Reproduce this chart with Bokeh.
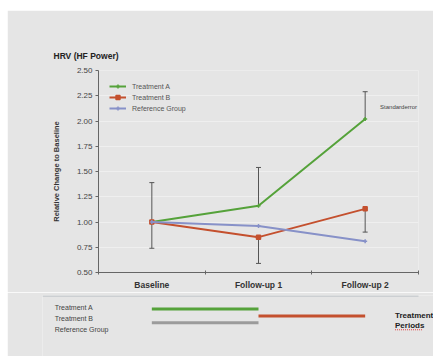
from bokeh.plotting import figure
from bokeh.models import (Range1d, FixedTicker, SingleIntervalTicker, NumeralTickFormatter,
                          Legend, LegendItem, Whisker, TeeHead, ColumnDataSource)
from bokeh.embed import file_html
from bokeh.resources import INLINE
from bokeh.core.properties import value

# ---------------- data ----------------
categories = ["Baseline", "Follow-up 1", "Follow-up 2"]
treatment_a = [1.00, 1.16, 2.02]
treatment_b = [1.00, 0.85, 1.13]
reference_group = [1.00, 0.96, 0.81]
se_a = [0.39, 0.38, 0.27]   # drawn upward
se_b = [0.26, 0.26, 0.23]   # drawn downward
y_ticks_step = 0.25

period_groups = ["Treatment A", "Treatment B", "Reference Group"]
period_start = ["Baseline", "Follow-up 1", "Baseline"]
period_end = ["Follow-up 1", "Follow-up 2", "Follow-up 1"]

# ---------------- styles ----------------
FONT = "Liberation Sans"
BG = "#e5e5e5"
GREEN = "#55a23a"
RED = "#c4502e"
BLUE = "#8791c8"
GRAY_BAR = "#9b9b9b"
TXT = "#444444"
PX_PER_CAT = 320 / 3

xs = [i + 0.5 for i in range(len(categories))]
idx = {c: i + 0.5 for i, c in enumerate(categories)}

p = figure(width=426, height=282, output_backend="svg", toolbar_location=None,
           x_range=Range1d(0, len(categories)), y_range=Range1d(0.5, 2.5),
           min_border_left=91, min_border_right=15, min_border_top=60, min_border_bottom=20,
           title="HRV (HF Power)")
p.styles = {"margin-left": "7px", "margin-top": "10px"}
p.background_fill_color = BG
p.border_fill_color = BG
p.outline_line_color = None
p.title.align = "left"
p.title.offset = -45
p.title.standoff = 19
p.title.text_font = FONT
p.title.text_font_style = "bold"
p.title.text_font_size = "8.5px"
p.title.text_color = "#222222"

# axes
xa = p.xaxis[0]
xa.ticker = FixedTicker(ticks=xs, minor_ticks=list(range(len(categories) + 1)))
xa.major_label_overrides = {x: c for x, c in zip(xs, categories)}
xa.major_tick_out = 0
xa.major_tick_in = 0
xa.minor_tick_out = 2
xa.minor_tick_in = 2
xa.minor_tick_line_color = "#666666"
xa.axis_line_color = "#666666"
xa.major_label_text_font = FONT
xa.major_label_text_font_style = "bold"
xa.major_label_text_font_size = "8.5px"
xa.major_label_text_color = "#333333"
xa.major_label_standoff = 5

ya = p.yaxis[0]
ya.ticker = SingleIntervalTicker(interval=y_ticks_step, num_minor_ticks=0)
ya.formatter = NumeralTickFormatter(format="0.00")
ya.axis_line_color = "#666666"
ya.major_tick_line_color = "#666666"
ya.major_tick_out = 3
ya.major_tick_in = 0
ya.minor_tick_out = 0
ya.major_label_text_font = FONT
ya.major_label_text_font_size = "8px"
ya.major_label_text_color = TXT
ya.major_label_standoff = 3
ya.axis_label = "Relative Change to Baseline"
ya.axis_label_text_font = FONT
ya.axis_label_text_font_style = "bold"
ya.axis_label_text_font_size = "7.5px"
ya.axis_label_text_color = "#333333"
ya.axis_label_standoff = 13

p.xgrid.grid_line_color = None
p.ygrid.grid_line_color = "#efefef"
p.ygrid.grid_line_width = 1

# error bars
src_a = ColumnDataSource(dict(x=xs, base=treatment_a,
                              upper=[v + s for v, s in zip(treatment_a, se_a)]))
src_b = ColumnDataSource(dict(x=xs, base=treatment_b,
                              lower=[v - s for v, s in zip(treatment_b, se_b)]))
p.add_layout(Whisker(source=src_a, base="x", upper="upper", lower="base", dimension="height",
                     line_color="#555555", line_width=1,
                     upper_head=TeeHead(size=5, line_color="#555555", line_width=1), lower_head=None))
p.add_layout(Whisker(source=src_b, base="x", upper="base", lower="lower", dimension="height",
                     line_color="#555555", line_width=1,
                     lower_head=TeeHead(size=5, line_color="#555555", line_width=1), upper_head=None))

# series
items = []
for name, vals, col, mk in [("Treatment A", treatment_a, GREEN, "cross"),
                            ("Treatment B", treatment_b, RED, "square"),
                            ("Reference Group", reference_group, BLUE, "cross")]:
    ln = p.line(xs, vals, line_color=col, line_width=2)
    sc = p.scatter(xs, vals, marker=mk, size=4, line_color=col, fill_color=col, line_width=1.5)
    items.append(LegendItem(label=name, renderers=[ln, sc]))

legend = Legend(items=items, location="top_left", margin=11, padding=6,
                background_fill_alpha=0, border_line_color=None,
                label_text_font=FONT, label_text_font_size="7px", label_text_color="#555555",
                glyph_width=17, glyph_height=10, label_height=10, label_standoff=6, spacing=1)
p.add_layout(legend)

p.text(x=[2.64], y=[2.14], text=["Standarderror"], text_font=value(FONT),
       text_font_size="6px", text_color=TXT, text_baseline="middle")

# ---------------- treatment periods strip ----------------
left_px, right_px = 42 - 98, 433 - 98   # strip frame edges relative to the chart's y axis
p2 = figure(width=426, height=64, output_backend="svg", toolbar_location=None,
            x_range=Range1d(left_px / PX_PER_CAT, right_px / PX_PER_CAT),
            y_range=Range1d(51 / 11.2, -13 / 11.2),
            min_border_left=35, min_border_right=0, min_border_top=3, min_border_bottom=0,
            x_axis_location=None, y_axis_location=None)
p2.styles = {"margin-left": "7px"}
p2.background_fill_color = BG
p2.border_fill_color = BG
p2.outline_line_color = None
p2.grid.grid_line_color = None

# separator line
p2.segment(x0=[left_px / PX_PER_CAT], x1=[len(categories)], y0=[-1.12], y1=[-1.12],
           line_color="#c3c7cb", line_width=1.5)

rows = list(range(len(period_groups)))
p2.text(x=[-0.41] * len(period_groups), y=rows, text=period_groups,
        text_font=value(FONT), text_font_size="7px", text_color=TXT, text_baseline="middle")

bar_rows = [0.1, 0.75, 1.4]
bar_colors = [GREEN, RED, GRAY_BAR]
p2.segment(x0=[idx[s] for s in period_start], x1=[idx[e] for e in period_end],
           y0=bar_rows, y1=bar_rows, line_color=bar_colors, line_width=3)

p2.text(x=[2.78, 2.78], y=[0.71, 1.65], text=["Treatment", "Periods"],
        text_font=value(FONT), text_font_style="bold", text_font_size="8px",
        text_color="#222222", text_baseline="middle")
p2.segment(x0=[2.78], x1=[3.04], y0=[2.05], y1=[2.05], line_color="#e04040",
           line_width=1, line_dash="1 1")

open("out.html", "w").write(file_html([p, p2], INLINE))
